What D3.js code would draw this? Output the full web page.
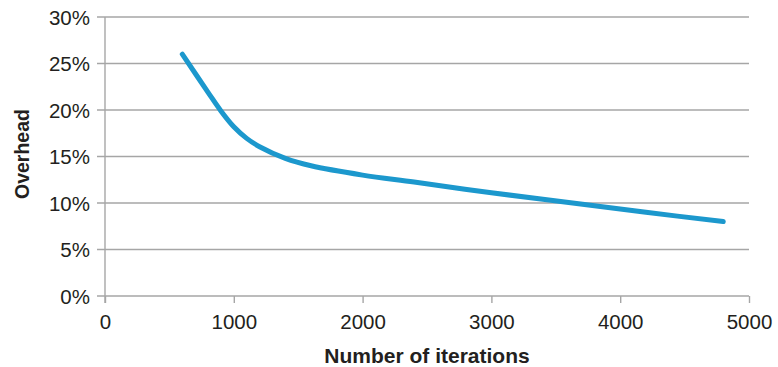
<!DOCTYPE html>
<html>
<head>
<meta charset="utf-8">
<script src="https://cdn.jsdelivr.net/npm/d3@7"></script>
<style>
  html, body { margin: 0; padding: 0; background: #fff; }
  svg { display: block; }
  text { font-family: "Liberation Sans", Arial, Helvetica, sans-serif; fill: #231f20; }
</style>
</head>
<body>
<svg id="chart" width="778" height="367"></svg>
<script>
// Overhead (%) versus number of iterations
const iterations = [600, 800, 900, 1000, 1100, 1200, 1400, 1600, 2000, 2400, 3000, 3600, 4200, 4800];
const overhead   = [26.0, 21.9, 19.9, 18.2, 16.95, 16.05, 14.8, 14.0, 13.0, 12.25, 11.1, 10.05, 9.0, 8.0];

const xTicks = [0, 1000, 2000, 3000, 4000, 5000];
const yTicks = [0, 5, 10, 15, 20, 25, 30];

const xTitle = "Number of iterations";
const yTitle = "Overhead";

const svg = d3.select("#chart");
const plotLeft = 105, plotRight = 749, plotTop = 17, plotBottom = 296;

const x = d3.scaleLinear().domain([0, 5000]).range([plotLeft, plotRight]);
const y = d3.scaleLinear().domain([0, 30]).range([plotBottom, plotTop]);

const gridColor = "#a6a6a6";

// horizontal gridlines (with short ticks to the left of the axis)
svg.append("g")
  .selectAll("line")
  .data(yTicks)
  .join("line")
  .attr("x1", plotLeft - 8)
  .attr("x2", plotRight)
  .attr("y1", d => y(d))
  .attr("y2", d => y(d))
  .attr("stroke", gridColor)
  .attr("stroke-width", 1.4);

// vertical axis line
svg.append("line")
  .attr("x1", plotLeft).attr("x2", plotLeft)
  .attr("y1", y(30)).attr("y2", plotBottom + 7)
  .attr("stroke", gridColor).attr("stroke-width", 1.4);

// bottom axis ticks and labels
const xAxis = d3.axisBottom(x).tickValues(xTicks).tickSize(7).tickSizeOuter(0).tickFormat(d3.format("d"));
const gx = svg.append("g").attr("transform", `translate(0,${plotBottom})`).call(xAxis);
gx.select(".domain").remove();
gx.selectAll(".tick line").attr("stroke", gridColor).attr("stroke-width", 1.4);
gx.selectAll(".tick text")
  .attr("y", 0).attr("dy", 0)
  .attr("transform", "translate(0,33)")
  .style("font-size", "20.5px")
  .style("font-family", "'Liberation Sans', Arial, sans-serif")
  .attr("fill", "#231f20");

// left axis labels
const yAxis = d3.axisLeft(y).tickValues(yTicks).tickSize(0).tickPadding(0).tickFormat(d => d + "%");
const gy = svg.append("g").attr("transform", `translate(${plotLeft - 15},0)`).call(yAxis);
gy.select(".domain").remove();
gy.selectAll(".tick text")
  .attr("dy", "0.35em")
  .style("font-size", "20.5px")
  .style("font-family", "'Liberation Sans', Arial, sans-serif")
  .attr("fill", "#231f20");

// data line, smoothed through the points
const line = d3.line()
  .x((d, i) => x(iterations[i]))
  .y(d => y(d))
  .curve(d3.curveCatmullRom.alpha(0.5));

svg.append("path")
  .datum(overhead)
  .attr("d", line)
  .attr("fill", "none")
  .attr("stroke", "#1c98cd")
  .attr("stroke-width", 5)
  .attr("stroke-linecap", "round")
  .attr("stroke-linejoin", "round");

// axis titles
svg.append("text")
  .attr("x", 427).attr("y", 363)
  .attr("text-anchor", "middle")
  .style("font-size", "21px").style("font-weight", "bold")
  .text(xTitle);

svg.append("text")
  .attr("transform", "translate(29,154) rotate(-90)")
  .attr("text-anchor", "middle")
  .style("font-size", "19.5px").style("font-weight", "bold")
  .text(yTitle);
</script>
</body>
</html>
